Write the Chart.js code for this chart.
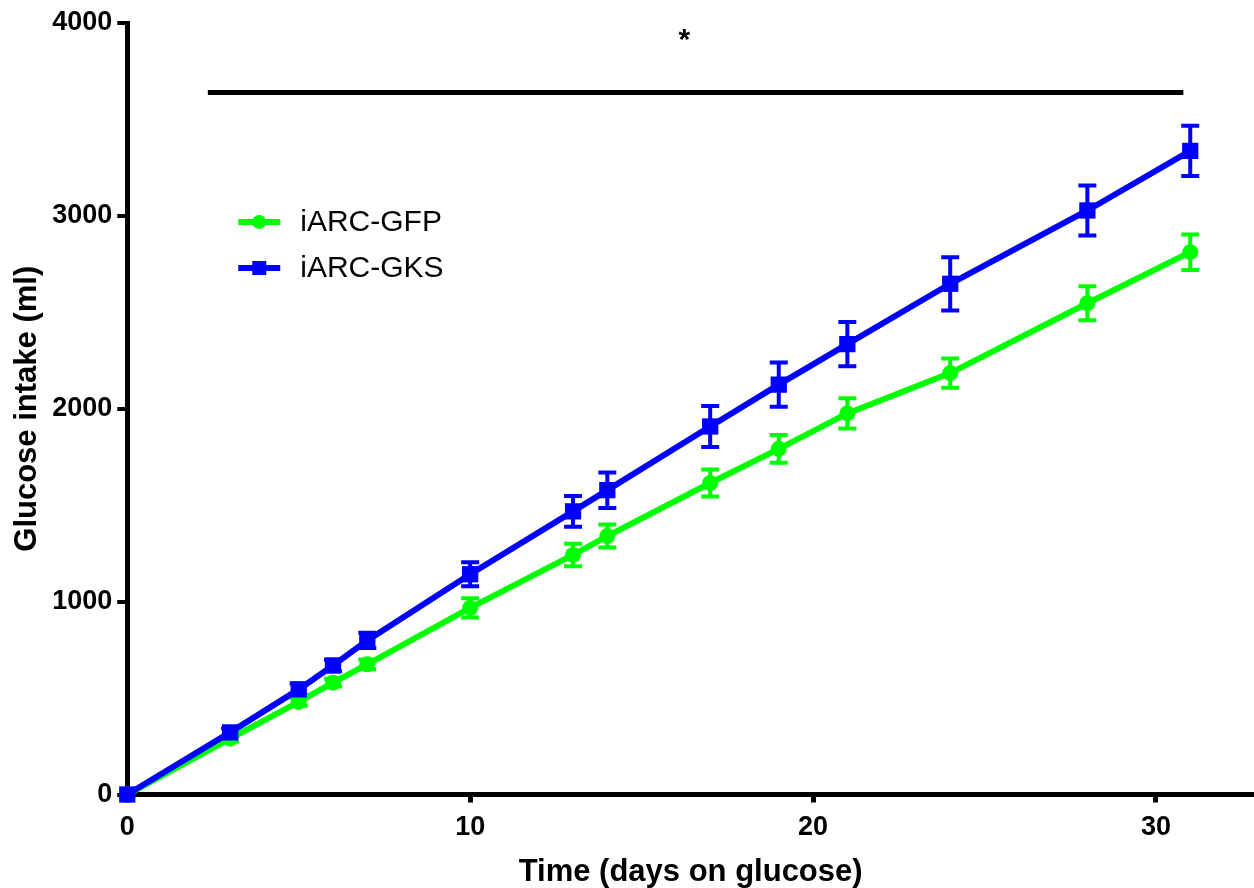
<!DOCTYPE html>
<html>
<head>
<meta charset="utf-8">
<script src="https://cdn.jsdelivr.net/npm/chart.js@4/dist/chart.umd.min.js"></script>
<style>
  html, body { margin: 0; padding: 0; background: #fff; }
  #wrap { width: 1254px; height: 888px; }
</style>
</head>
<body>
<div id="wrap"><canvas id="graficoGlicose" width="1254" height="888"></canvas></div>
<script>
// dias de acesso à glicose
const dias = [0, 3, 5, 6, 7, 10, 13, 14, 17, 19, 21, 24, 28, 31];

// consumo acumulado (ml) e erro padrão
const gfp = [0, 290, 480, 580, 675, 968, 1242, 1340, 1615, 1792, 1976, 2185, 2547, 2812];
const gfpErro = [0, 15, 20, 20, 25, 50, 58, 60, 70, 72, 78, 76, 88, 92];
const gks = [0, 322, 545, 669, 799, 1142, 1468, 1578, 1908, 2125, 2335, 2648, 3028, 3337];
const gksErro = [0, 20, 30, 30, 40, 62, 80, 92, 106, 115, 115, 138, 130, 130];

const nomes = ['iARC-GFP', 'iARC-GKS'];
const cores = ['#00ff00', '#0000ff'];

const ticksX = [0, 10, 20, 30];
const ticksY = [0, 1000, 2000, 3000, 4000];

// barra de significância
const barraInicio = 2.35;
const barraFim = 30.8;
const barraY = 3640;
const asteriscoX = 16.25;
const asteriscoY = 3910;

const fonte = '"Liberation Sans", Arial, sans-serif';

function pontos(ys) {
  return dias.map((d, i) => ({ x: d, y: ys[i] }));
}

// barras de erro desenhadas por baixo das linhas
const barrasErro = {
  id: 'barrasErro',
  beforeDatasetsDraw(chart) {
    const ctx = chart.ctx;
    const yScale = chart.scales.y;
    const erros = [gfpErro, gksErro];
    chart.data.datasets.forEach((ds, k) => {
      const meta = chart.getDatasetMeta(k);
      ctx.save();
      ctx.strokeStyle = ds.borderColor;
      ctx.lineWidth = 4;
      ctx.lineCap = 'butt';
      meta.data.forEach((p, i) => {
        const e = erros[k][i];
        if (!e) return;
        const v = ds.data[i].y;
        const yTop = yScale.getPixelForValue(v + e);
        const yBot = yScale.getPixelForValue(v - e);
        ctx.beginPath();
        ctx.moveTo(p.x, yTop);
        ctx.lineTo(p.x, yBot);
        ctx.moveTo(p.x - 9, yTop);
        ctx.lineTo(p.x + 9, yTop);
        ctx.moveTo(p.x - 9, yBot);
        ctx.lineTo(p.x + 9, yBot);
        ctx.stroke();
      });
      ctx.restore();
    });
  }
};

// barra horizontal, asterisco e legenda
const extras = {
  id: 'extras',
  afterDraw(chart) {
    const ctx = chart.ctx;
    const xs = chart.scales.x;
    const ys = chart.scales.y;
    const area = chart.chartArea;

    ctx.save();
    ctx.strokeStyle = '#000';
    ctx.lineWidth = 5;
    ctx.beginPath();
    ctx.moveTo(xs.getPixelForValue(barraInicio), ys.getPixelForValue(barraY));
    ctx.lineTo(xs.getPixelForValue(barraFim), ys.getPixelForValue(barraY));
    ctx.stroke();

    ctx.fillStyle = '#000';
    ctx.font = 'bold 30px ' + fonte;
    ctx.textAlign = 'center';
    ctx.textBaseline = 'middle';
    ctx.fillText('*', xs.getPixelForValue(asteriscoX), ys.getPixelForValue(asteriscoY));

    // legenda
    const lx = area.left + 111;
    const ly = area.top + 199;
    chart.data.datasets.forEach((ds, k) => {
      const y = ly + k * 46;
      ctx.strokeStyle = ds.borderColor;
      ctx.lineWidth = 6;
      ctx.beginPath();
      ctx.moveTo(lx, y);
      ctx.lineTo(lx + 42, y);
      ctx.stroke();
      ctx.fillStyle = ds.borderColor;
      if (ds.pointStyle === 'rect') {
        ctx.fillRect(lx + 14, y - 7, 14, 14);
      } else {
        ctx.beginPath();
        ctx.arc(lx + 21, y, 7, 0, Math.PI * 2);
        ctx.fill();
      }
      ctx.fillStyle = '#000';
      ctx.font = '30px ' + fonte;
      ctx.textAlign = 'left';
      ctx.textBaseline = 'middle';
      ctx.fillText(nomes[k], lx + 62, y + 1);
    });
    ctx.restore();
  }
};

const ctx = document.getElementById('graficoGlicose').getContext('2d');

new Chart(ctx, {
  type: 'scatter',
  data: {
    datasets: [
      {
        label: nomes[0],
        data: pontos(gfp),
        showLine: true,
        borderColor: cores[0],
        backgroundColor: cores[0],
        borderWidth: 6,
        pointStyle: 'circle',
        pointRadius: 8,
        pointHoverRadius: 8,
        pointBorderWidth: 0,
        clip: false,
        order: 2
      },
      {
        label: nomes[1],
        data: pontos(gks),
        showLine: true,
        borderColor: cores[1],
        backgroundColor: cores[1],
        borderWidth: 6,
        pointStyle: 'rect',
        pointRadius: 11.5,
        pointHoverRadius: 11.5,
        pointBorderWidth: 0,
        clip: false,
        order: 1
      }
    ]
  },
  options: {
    responsive: false,
    animation: false,
    layout: { autoPadding: false, padding: { left: 2, top: 23, right: 0, bottom: 0 } },
    plugins: {
      legend: { display: false },
      tooltip: { enabled: false }
    },
    scales: {
      x: {
        type: 'linear',
        min: 0,
        max: 32.86,
        afterBuildTicks(scale) {
          scale.ticks = ticksX.map(v => ({ value: v }));
        },
        grid: { drawOnChartArea: false, drawTicks: true, tickLength: 8, lineWidth: 5, color: '#000' },
        border: { display: true, width: 5, color: '#000' },
        ticks: {
          padding: 12,
          color: '#000',
          maxRotation: 0,
          callback: v => String(v),
          font: { family: fonte, size: 27, weight: 'bold', lineHeight: 1 }
        },
        title: {
          display: true,
          text: 'Time (days on glucose)',
          color: '#000',
          padding: { top: 3.5, bottom: 0 },
          font: { family: fonte, size: 31, weight: 'bold', lineHeight: 1 }
        }
      },
      y: {
        type: 'linear',
        min: 0,
        max: 4000,
        afterBuildTicks(scale) {
          scale.ticks = ticksY.map(v => ({ value: v }));
        },
        grid: { drawOnChartArea: false, drawTicks: true, tickLength: 10, lineWidth: 4, color: '#000' },
        border: { display: true, width: 5, color: '#000' },
        ticks: {
          padding: 5,
          color: '#000',
          callback: v => String(v),
          font: { family: fonte, size: 27, weight: 'bold' }
        },
        title: {
          display: true,
          text: 'Glucose intake (ml)',
          color: '#000',
          padding: { top: 7, bottom: 1 },
          font: { family: fonte, size: 31, weight: 'bold' }
        }
      }
    }
  },
  plugins: [barrasErro, extras]
});
</script>
</body>
</html>
